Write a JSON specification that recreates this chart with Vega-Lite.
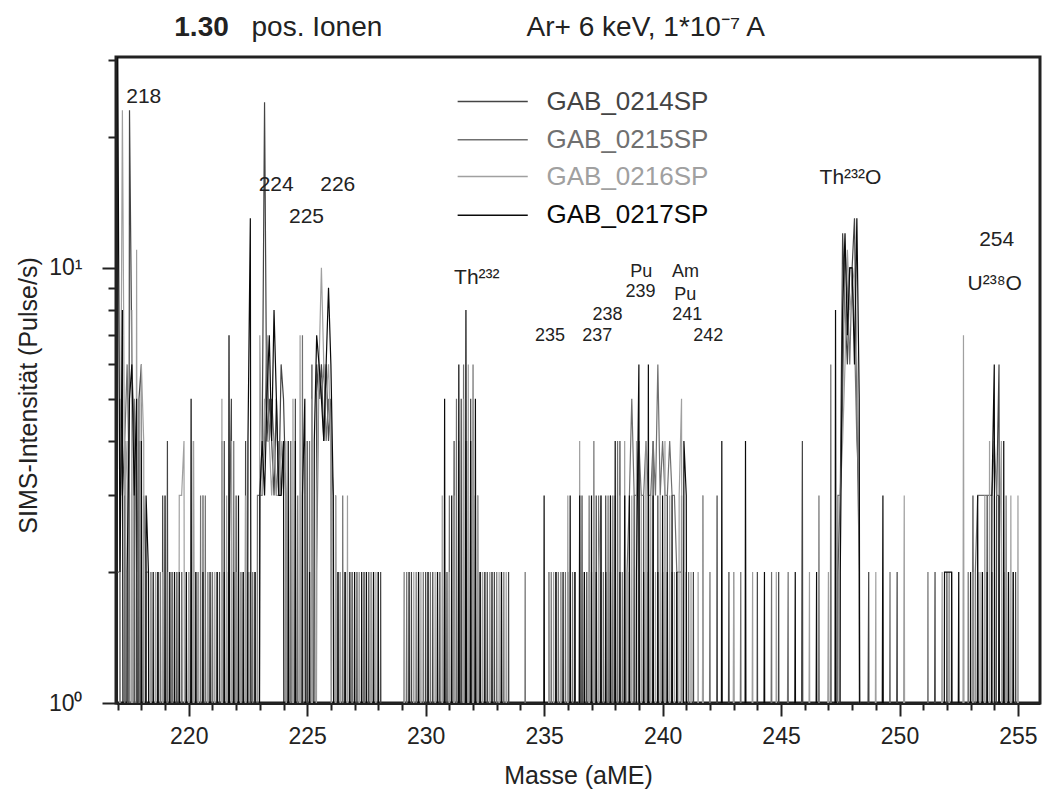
{
"$schema":"https://vega.github.io/schema/vega-lite/v6.json",
"width":924,"height":646,"autosize":{"type":"none"},
"padding":{"left":116,"top":57,"right":8,"bottom":91},
"background":"white",
"config":{"font":"Liberation Sans","view":{"stroke":"#222","strokeWidth":3},
 "axis":{"domainColor":"#222","domainWidth":3,"tickColor":"#222","tickWidth":2,"labelColor":"#222","titleColor":"#222","labelFont":"Liberation Sans","titleFont":"Liberation Sans","labelFontSize":23,"titleFontSize":25,"titleFontWeight":"normal","grid":false,"labelOverlap":false,"labelBound":false}},
"datasets":{
"spec":[
{"m":217.0,"a":0,"b":2,"c":0,"d":35},{"m":217.1,"a":5,"b":2,"c":2,"d":2},{"m":217.2,"a":3,"b":0,"c":23,"d":8},{"m":217.3,"a":4,"b":4,"c":3,"d":0},{"m":217.4,"a":0,"b":6,"c":4,"d":2},{"m":217.5,"a":23,"b":3,"c":0,"d":5},{"m":217.6,"a":6,"b":0,"c":8,"d":6},{"m":217.7,"a":4,"b":5,"c":0,"d":3},{"m":217.8,"a":0,"b":2,"c":11,"d":5},{"m":217.9,"a":5,"b":4,"c":0,"d":0},
{"m":218.0,"a":6,"b":0,"c":6,"d":4},{"m":218.1,"a":0,"b":3,"c":4,"d":0},{"m":218.2,"a":2,"b":2,"c":0,"d":3},{"m":218.3,"a":0,"b":2,"c":0,"d":2},{"m":218.4,"a":2,"b":0,"c":2,"d":0},{"m":218.5,"a":0,"b":0,"c":0,"d":2},{"m":218.6,"a":0,"b":2,"c":2,"d":0},{"m":218.7,"a":2,"b":0,"c":0,"d":2},{"m":218.8,"a":0,"b":2,"c":0,"d":0},{"m":218.9,"a":3,"b":0,"c":2,"d":0},
{"m":219.0,"a":0,"b":0,"c":0,"d":3},{"m":219.1,"a":4,"b":2,"c":0,"d":0},{"m":219.2,"a":0,"b":0,"c":2,"d":2},{"m":219.3,"a":2,"b":2,"c":0,"d":0},{"m":219.4,"a":0,"b":0,"c":2,"d":2},{"m":219.5,"a":2,"b":0,"c":0,"d":0},{"m":219.6,"a":0,"b":0,"c":3,"d":2},{"m":219.7,"a":2,"b":2,"c":3,"d":0},{"m":219.8,"a":0,"b":0,"c":4,"d":0},{"m":219.9,"a":2,"b":0,"c":0,"d":2},
{"m":220.0,"a":0,"b":2,"c":2,"d":0},{"m":220.1,"a":0,"b":0,"c":0,"d":5},{"m":220.2,"a":4,"b":0,"c":4,"d":0},{"m":220.3,"a":0,"b":2,"c":0,"d":2},{"m":220.4,"a":2,"b":0,"c":2,"d":0},{"m":220.5,"a":0,"b":3,"c":0,"d":0},{"m":220.6,"a":3,"b":0,"c":3,"d":2},{"m":220.7,"a":0,"b":3,"c":0,"d":0},{"m":220.8,"a":2,"b":0,"c":2,"d":0},{"m":220.9,"a":0,"b":0,"c":0,"d":2},
{"m":221.0,"a":2,"b":2,"c":0,"d":0},{"m":221.1,"a":0,"b":0,"c":2,"d":0},{"m":221.2,"a":0,"b":2,"c":0,"d":2},{"m":221.3,"a":2,"b":0,"c":0,"d":0},{"m":221.4,"a":0,"b":4,"c":5,"d":0},{"m":221.5,"a":4,"b":0,"c":0,"d":2},{"m":221.6,"a":0,"b":2,"c":3,"d":0},{"m":221.7,"a":2,"b":0,"c":0,"d":7},{"m":221.8,"a":5,"b":0,"c":4,"d":0},{"m":221.9,"a":0,"b":4,"c":0,"d":2},
{"m":222.0,"a":3,"b":0,"c":2,"d":0},{"m":222.1,"a":0,"b":2,"c":0,"d":3},{"m":222.2,"a":2,"b":0,"c":2,"d":0},{"m":222.3,"a":0,"b":2,"c":0,"d":2},{"m":222.4,"a":4,"b":0,"c":3,"d":0},{"m":222.5,"a":0,"b":2,"c":0,"d":4},{"m":222.6,"a":2,"b":0,"c":2,"d":13},{"m":222.7,"a":0,"b":2,"c":0,"d":0},{"m":222.8,"a":2,"b":0,"c":2,"d":2},{"m":222.9,"a":0,"b":3,"c":0,"d":0},
{"m":223.0,"a":3,"b":3,"c":7,"d":3},{"m":223.1,"a":4,"b":3,"c":3,"d":4},{"m":223.2,"a":24,"b":4,"c":5,"d":3},{"m":223.3,"a":4,"b":7,"c":4,"d":5},{"m":223.4,"a":5,"b":4,"c":4,"d":7},{"m":223.5,"a":4,"b":5,"c":3,"d":4},{"m":223.6,"a":3,"b":4,"c":4,"d":8},{"m":223.7,"a":5,"b":3,"c":3,"d":5},{"m":223.8,"a":3,"b":4,"c":3,"d":3},{"m":223.9,"a":6,"b":3,"c":4,"d":3},
{"m":224.0,"a":5,"b":4,"c":3,"d":4},{"m":224.1,"a":3,"b":3,"c":4,"d":0},{"m":224.2,"a":0,"b":0,"c":0,"d":4},{"m":224.3,"a":4,"b":4,"c":0,"d":0},{"m":224.4,"a":0,"b":0,"c":5,"d":0},{"m":224.5,"a":5,"b":0,"c":0,"d":4},{"m":224.6,"a":0,"b":3,"c":0,"d":0},{"m":224.7,"a":0,"b":0,"c":7,"d":0},{"m":224.8,"a":0,"b":7,"c":0,"d":3},{"m":224.9,"a":0,"b":0,"c":0,"d":5},
{"m":225.0,"a":4,"b":0,"c":0,"d":0},{"m":225.1,"a":0,"b":4,"c":0,"d":2},{"m":225.2,"a":6,"b":0,"c":5,"d":0},{"m":225.3,"a":0,"b":0,"c":0,"d":4},{"m":225.4,"a":6,"b":2,"c":3,"d":7},{"m":225.5,"a":5,"b":6,"c":6,"d":6},{"m":225.6,"a":6,"b":5,"c":10,"d":5},{"m":225.7,"a":4,"b":6,"c":6,"d":4},{"m":225.8,"a":6,"b":4,"c":5,"d":6},{"m":225.9,"a":4,"b":5,"c":6,"d":9},
{"m":226.0,"a":5,"b":4,"c":4,"d":6},{"m":226.1,"a":0,"b":3,"c":0,"d":3},{"m":226.2,"a":3,"b":0,"c":3,"d":0},{"m":226.3,"a":0,"b":2,"c":0,"d":2},{"m":226.4,"a":2,"b":0,"c":2,"d":0},{"m":226.5,"a":0,"b":3,"c":0,"d":0},{"m":226.6,"a":2,"b":0,"c":0,"d":2},{"m":226.7,"a":0,"b":2,"c":3,"d":0},{"m":226.8,"a":0,"b":0,"c":0,"d":2},{"m":226.9,"a":2,"b":2,"c":0,"d":0},
{"m":227.0,"a":0,"b":0,"c":2,"d":2},{"m":227.1,"a":2,"b":0,"c":0,"d":0},{"m":227.2,"a":0,"b":2,"c":2,"d":0},{"m":227.3,"a":0,"b":0,"c":0,"d":2},{"m":227.4,"a":2,"b":2,"c":0,"d":0},{"m":227.5,"a":0,"b":0,"c":2,"d":2},{"m":227.6,"a":2,"b":0,"c":0,"d":0},{"m":227.7,"a":0,"b":2,"c":2,"d":0},{"m":227.8,"a":2,"b":0,"c":0,"d":2},{"m":227.9,"a":0,"b":0,"c":2,"d":0},
{"m":228.0,"a":0,"b":2,"c":0,"d":2},{"m":228.1,"a":2,"b":0,"c":0,"d":0},{"m":228.2,"a":0,"b":0,"c":0,"d":0},
{"m":229.0,"a":0,"b":0,"c":0,"d":0},{"m":229.1,"a":2,"b":0,"c":2,"d":0},{"m":229.2,"a":0,"b":2,"c":0,"d":0},{"m":229.3,"a":0,"b":0,"c":0,"d":2},{"m":229.4,"a":2,"b":0,"c":0,"d":0},{"m":229.5,"a":0,"b":0,"c":2,"d":0},{"m":229.6,"a":0,"b":2,"c":0,"d":0},{"m":229.7,"a":2,"b":0,"c":0,"d":2},{"m":229.8,"a":0,"b":0,"c":2,"d":0},{"m":229.9,"a":0,"b":2,"c":0,"d":0},
{"m":230.0,"a":2,"b":0,"c":0,"d":0},{"m":230.1,"a":0,"b":0,"c":2,"d":2},{"m":230.2,"a":0,"b":2,"c":0,"d":0},{"m":230.3,"a":2,"b":0,"c":0,"d":0},{"m":230.4,"a":0,"b":0,"c":2,"d":0},{"m":230.5,"a":0,"b":2,"c":0,"d":2},{"m":230.6,"a":2,"b":0,"c":0,"d":0},{"m":230.7,"a":0,"b":0,"c":3,"d":0},{"m":230.8,"a":0,"b":2,"c":0,"d":5},{"m":230.9,"a":2,"b":0,"c":0,"d":0},
{"m":231.0,"a":0,"b":3,"c":2,"d":0},{"m":231.1,"a":0,"b":0,"c":0,"d":3},{"m":231.2,"a":4,"b":0,"c":3,"d":0},{"m":231.3,"a":0,"b":5,"c":0,"d":0},{"m":231.4,"a":0,"b":0,"c":4,"d":6},{"m":231.5,"a":5,"b":0,"c":0,"d":0},{"m":231.6,"a":0,"b":6,"c":5,"d":0},{"m":231.7,"a":4,"b":0,"c":0,"d":8},{"m":231.8,"a":0,"b":4,"c":6,"d":0},{"m":231.9,"a":5,"b":0,"c":0,"d":4},
{"m":232.0,"a":0,"b":6,"c":4,"d":0},{"m":232.1,"a":3,"b":0,"c":0,"d":5},{"m":232.2,"a":0,"b":3,"c":3,"d":0},{"m":232.3,"a":2,"b":0,"c":0,"d":2},{"m":232.4,"a":0,"b":2,"c":2,"d":0},{"m":232.5,"a":0,"b":0,"c":0,"d":2},{"m":232.6,"a":2,"b":0,"c":0,"d":0},{"m":232.7,"a":0,"b":2,"c":2,"d":0},{"m":232.8,"a":0,"b":0,"c":0,"d":2},{"m":232.9,"a":2,"b":0,"c":0,"d":0},
{"m":233.0,"a":0,"b":2,"c":0,"d":0},{"m":233.1,"a":0,"b":0,"c":2,"d":0},{"m":233.2,"a":2,"b":0,"c":0,"d":2},{"m":233.3,"a":0,"b":2,"c":0,"d":0},{"m":233.4,"a":0,"b":0,"c":2,"d":0},{"m":233.5,"a":2,"b":0,"c":0,"d":0},{"m":233.6,"a":0,"b":0,"c":0,"d":0},
{"m":234.1,"a":0,"b":0,"c":0,"d":0},{"m":234.2,"a":0,"b":2,"c":0,"d":0},{"m":234.3,"a":0,"b":0,"c":0,"d":0},
{"m":234.9,"a":0,"b":0,"c":0,"d":0},{"m":235.0,"a":0,"b":0,"c":0,"d":3},{"m":235.1,"a":0,"b":0,"c":0,"d":0},{"m":235.2,"a":2,"b":0,"c":2,"d":0},{"m":235.3,"a":0,"b":2,"c":0,"d":0},{"m":235.4,"a":0,"b":0,"c":2,"d":0},{"m":235.5,"a":2,"b":0,"c":0,"d":2},{"m":235.6,"a":0,"b":2,"c":0,"d":0},{"m":235.7,"a":2,"b":0,"c":2,"d":0},{"m":235.8,"a":0,"b":0,"c":0,"d":2},{"m":235.9,"a":0,"b":2,"c":0,"d":0},
{"m":236.0,"a":2,"b":0,"c":3,"d":0},{"m":236.1,"a":0,"b":0,"c":0,"d":3},{"m":236.2,"a":0,"b":2,"c":0,"d":0},{"m":236.3,"a":2,"b":0,"c":2,"d":2},{"m":236.4,"a":0,"b":0,"c":0,"d":0},{"m":236.5,"a":0,"b":3,"c":4,"d":3},{"m":236.6,"a":3,"b":0,"c":0,"d":0},{"m":236.7,"a":0,"b":2,"c":2,"d":2},{"m":236.8,"a":2,"b":0,"c":0,"d":0},{"m":236.9,"a":0,"b":3,"c":2,"d":0},
{"m":237.0,"a":2,"b":0,"c":0,"d":3},{"m":237.1,"a":0,"b":4,"c":3,"d":0},{"m":237.2,"a":3,"b":0,"c":0,"d":2},{"m":237.3,"a":0,"b":3,"c":2,"d":0},{"m":237.4,"a":2,"b":0,"c":3,"d":3},{"m":237.5,"a":0,"b":2,"c":0,"d":0},{"m":237.6,"a":3,"b":0,"c":2,"d":2},{"m":237.7,"a":0,"b":3,"c":0,"d":0},{"m":237.8,"a":2,"b":0,"c":3,"d":3},{"m":237.9,"a":0,"b":3,"c":0,"d":0},
{"m":238.0,"a":3,"b":0,"c":2,"d":4},{"m":238.1,"a":0,"b":4,"c":0,"d":0},{"m":238.2,"a":4,"b":0,"c":3,"d":2},{"m":238.3,"a":0,"b":2,"c":0,"d":0},{"m":238.4,"a":3,"b":0,"c":4,"d":3},{"m":238.5,"a":0,"b":2,"c":0,"d":0},{"m":238.6,"a":2,"b":3,"c":0,"d":3},{"m":238.7,"a":0,"b":5,"c":3,"d":0},{"m":238.8,"a":3,"b":3,"c":0,"d":0},{"m":238.9,"a":0,"b":3,"c":4,"d":2},
{"m":239.0,"a":4,"b":4,"c":0,"d":6},{"m":239.1,"a":0,"b":3,"c":3,"d":0},{"m":239.2,"a":3,"b":3,"c":0,"d":2},{"m":239.3,"a":0,"b":4,"c":4,"d":0},{"m":239.4,"a":2,"b":3,"c":0,"d":6},{"m":239.5,"a":0,"b":3,"c":3,"d":0},{"m":239.6,"a":4,"b":4,"c":0,"d":3},{"m":239.7,"a":0,"b":3,"c":2,"d":0},{"m":239.8,"a":3,"b":6,"c":0,"d":2},{"m":239.9,"a":0,"b":3,"c":3,"d":0},
{"m":240.0,"a":2,"b":4,"c":0,"d":3},{"m":240.1,"a":0,"b":3,"c":4,"d":0},{"m":240.2,"a":3,"b":3,"c":0,"d":2},{"m":240.3,"a":0,"b":4,"c":3,"d":0},{"m":240.4,"a":2,"b":3,"c":0,"d":3},{"m":240.5,"a":0,"b":3,"c":2,"d":0},{"m":240.6,"a":2,"b":2,"c":0,"d":2},{"m":240.7,"a":0,"b":2,"c":3,"d":0},{"m":240.8,"a":3,"b":2,"c":5,"d":0},{"m":240.9,"a":0,"b":0,"c":0,"d":4},
{"m":241.0,"a":2,"b":0,"c":0,"d":3},{"m":241.1,"a":0,"b":2,"c":0,"d":0},{"m":241.2,"a":0,"b":0,"c":2,"d":0},{"m":241.3,"a":2,"b":0,"c":0,"d":0},{"m":241.4,"a":0,"b":0,"c":0,"d":0},{"m":241.5,"a":0,"b":0,"c":2,"d":0},{"m":241.6,"a":0,"b":0,"c":0,"d":0},{"m":241.7,"a":0,"b":3,"c":3,"d":0},{"m":241.8,"a":0,"b":0,"c":0,"d":0},{"m":242.0,"a":0,"b":2,"c":0,"d":0},{"m":242.1,"a":0,"b":0,"c":0,"d":0},
{"m":242.2,"a":0,"b":0,"c":0,"d":0},{"m":242.3,"a":3,"b":0,"c":0,"d":0},{"m":242.4,"a":0,"b":0,"c":0,"d":0},{"m":242.5,"a":0,"b":0,"c":0,"d":4},{"m":242.6,"a":0,"b":0,"c":0,"d":0},{"m":242.8,"a":2,"b":0,"c":0,"d":0},{"m":242.9,"a":0,"b":0,"c":0,"d":0},{"m":243.0,"a":0,"b":2,"c":2,"d":0},{"m":243.1,"a":0,"b":0,"c":0,"d":0},{"m":243.3,"a":0,"b":2,"c":0,"d":0},{"m":243.4,"a":0,"b":0,"c":0,"d":0},
{"m":243.5,"a":0,"b":0,"c":0,"d":4},{"m":243.6,"a":0,"b":0,"c":0,"d":0},{"m":243.8,"a":0,"b":0,"c":2,"d":0},{"m":243.9,"a":0,"b":0,"c":0,"d":0},{"m":244.0,"a":2,"b":0,"c":0,"d":0},{"m":244.1,"a":0,"b":0,"c":0,"d":0},{"m":244.3,"a":0,"b":0,"c":0,"d":2},{"m":244.4,"a":0,"b":0,"c":0,"d":0},{"m":244.6,"a":0,"b":2,"c":0,"d":0},{"m":244.7,"a":0,"b":0,"c":0,"d":0},
{"m":244.8,"a":0,"b":0,"c":2,"d":0},{"m":244.9,"a":2,"b":0,"c":0,"d":0},{"m":245.0,"a":0,"b":0,"c":0,"d":0},{"m":245.3,"a":0,"b":2,"c":0,"d":0},{"m":245.4,"a":0,"b":0,"c":0,"d":0},{"m":245.6,"a":0,"b":0,"c":0,"d":2},{"m":245.7,"a":0,"b":0,"c":0,"d":0},{"m":245.9,"a":4,"b":0,"c":0,"d":0},{"m":246.0,"a":0,"b":0,"c":0,"d":0},
{"m":246.2,"a":0,"b":0,"c":2,"d":0},{"m":246.3,"a":0,"b":0,"c":0,"d":0},{"m":246.5,"a":0,"b":0,"c":0,"d":2},{"m":246.6,"a":0,"b":3,"c":0,"d":0},{"m":246.7,"a":0,"b":0,"c":0,"d":0},{"m":247.0,"a":0,"b":0,"c":2,"d":0},{"m":247.1,"a":0,"b":6,"c":0,"d":0},{"m":247.2,"a":0,"b":0,"c":0,"d":0},{"m":247.3,"a":0,"b":0,"c":0,"d":8},
{"m":247.4,"a":2,"b":3,"c":0,"d":0},{"m":247.5,"a":3,"b":3,"c":3,"d":2},{"m":247.6,"a":12,"b":5,"c":4,"d":8},{"m":247.7,"a":8,"b":11,"c":6,"d":12},{"m":247.8,"a":6,"b":9,"c":11,"d":7},{"m":247.9,"a":10,"b":6,"c":8,"d":10},{"m":248.0,"a":10,"b":10,"c":9,"d":10},{"m":248.1,"a":13,"b":7,"c":10,"d":6},{"m":248.2,"a":5,"b":4,"c":6,"d":13},{"m":248.3,"a":2,"b":3,"c":3,"d":5},{"m":248.4,"a":0,"b":0,"c":0,"d":0},
{"m":248.7,"a":2,"b":0,"c":0,"d":0},{"m":248.8,"a":0,"b":0,"c":0,"d":0},{"m":249.0,"a":0,"b":0,"c":2,"d":0},{"m":249.1,"a":0,"b":0,"c":0,"d":0},{"m":249.3,"a":0,"b":0,"c":0,"d":3},{"m":249.4,"a":0,"b":0,"c":0,"d":0},{"m":249.6,"a":0,"b":2,"c":0,"d":0},{"m":249.7,"a":0,"b":0,"c":0,"d":0},{"m":249.9,"a":2,"b":0,"c":0,"d":0},{"m":250.0,"a":0,"b":0,"c":0,"d":0},{"m":250.2,"a":0,"b":0,"c":3,"d":0},{"m":250.3,"a":0,"b":0,"c":0,"d":0},
{"m":251.1,"a":0,"b":0,"c":0,"d":0},{"m":251.2,"a":0,"b":2,"c":0,"d":0},{"m":251.3,"a":0,"b":0,"c":0,"d":0},{"m":251.5,"a":2,"b":0,"c":0,"d":0},{"m":251.6,"a":0,"b":0,"c":0,"d":0},{"m":251.8,"a":0,"b":0,"c":2,"d":0},{"m":251.9,"a":0,"b":0,"c":0,"d":2},{"m":252.0,"a":2,"b":0,"c":0,"d":2},{"m":252.1,"a":0,"b":2,"c":2,"d":2},{"m":252.2,"a":2,"b":0,"c":0,"d":2},{"m":252.3,"a":0,"b":0,"c":0,"d":0},
{"m":252.5,"a":0,"b":0,"c":0,"d":2},{"m":252.6,"a":0,"b":0,"c":0,"d":0},{"m":252.7,"a":0,"b":0,"c":7,"d":0},{"m":252.8,"a":0,"b":0,"c":0,"d":0},{"m":252.9,"a":0,"b":2,"c":0,"d":0},{"m":253.0,"a":0,"b":0,"c":0,"d":2},{"m":253.1,"a":3,"b":0,"c":2,"d":0},{"m":253.2,"a":0,"b":2,"c":0,"d":0},{"m":253.3,"a":2,"b":3,"c":0,"d":3},{"m":253.4,"a":0,"b":3,"c":2,"d":0},
{"m":253.5,"a":2,"b":3,"c":0,"d":2},{"m":253.6,"a":0,"b":3,"c":3,"d":0},{"m":253.7,"a":3,"b":3,"c":0,"d":2},{"m":253.8,"a":0,"b":3,"c":4,"d":0},{"m":253.9,"a":2,"b":3,"c":0,"d":3},{"m":254.0,"a":0,"b":4,"c":3,"d":6},{"m":254.1,"a":3,"b":3,"c":0,"d":0},{"m":254.2,"a":6,"b":3,"c":2,"d":3},{"m":254.3,"a":0,"b":3,"c":4,"d":0},{"m":254.4,"a":2,"b":0,"c":0,"d":4},
{"m":254.5,"a":0,"b":3,"c":2,"d":0},{"m":254.6,"a":2,"b":0,"c":0,"d":2},{"m":254.7,"a":0,"b":0,"c":3,"d":0},{"m":254.8,"a":0,"b":2,"c":0,"d":2},{"m":254.9,"a":2,"b":0,"c":0,"d":0},{"m":255.0,"a":0,"b":0,"c":3,"d":0},{"m":255.1,"a":0,"b":0,"c":0,"d":0}
],
"leg":[
{"s":"a","t":"GAB_0214SP","r1":231.35,"r2":234.31,"m":235.1,"v":24.1},
{"s":"b","t":"GAB_0215SP","r1":231.35,"r2":234.31,"m":235.1,"v":19.7},
{"s":"c","t":"GAB_0216SP","r1":231.35,"r2":234.31,"m":235.1,"v":16.2},
{"s":"d","t":"GAB_0217SP","r1":231.35,"r2":234.31,"m":235.1,"v":13.2}
],
"lab":[
{"g":"big","t":"218","m":218.1,"v":24.7},
{"g":"big","t":"224","m":223.69,"v":15.5},
{"g":"big","t":"226","m":226.29,"v":15.5},
{"g":"big","t":"225","m":224.97,"v":13.1},
{"g":"big","t":"Th²³²","m":232.16,"v":9.5},
{"g":"big","t":"Th²³²O","m":247.93,"v":16.1},
{"g":"big","t":"254","m":254.1,"v":11.6},
{"g":"big","t":"U²³⁸O","m":254.02,"v":9.2},
{"g":"small","t":"Pu","m":239.1,"v":9.8},
{"g":"small","t":"Am","m":240.97,"v":9.8},
{"g":"small","t":"239","m":239.07,"v":8.8},
{"g":"small","t":"Pu","m":240.96,"v":8.66},
{"g":"small","t":"238","m":237.68,"v":7.8},
{"g":"small","t":"241","m":241.04,"v":7.8},
{"g":"small","t":"235","m":235.25,"v":6.97},
{"g":"small","t":"237","m":237.24,"v":6.97},
{"g":"small","t":"242","m":241.93,"v":6.97},
{"g":"bold","t":"1.30","m":219.39,"v":35.6},
{"g":"head","t":"pos. Ionen","m":222.65,"v":35.6},
{"g":"head","t":"Ar+ 6 keV, 1*10⁻⁷ A","m":234.26,"v":35.6}
]},
"encoding":{
 "x":{"field":"m","type":"quantitative","scale":{"domain":[216.93,255.93],"nice":false,"zero":false},
  "axis":{"title":"Masse (aME)","values":[217,218,219,220,221,222,223,224,225,226,227,228,229,230,231,232,233,234,235,236,237,238,239,240,241,242,243,244,245,246,247,248,249,250,251,252,253,254,255],
   "labelExpr":"datum.value % 5 === 0 ? datum.label : ''","tickSize":{"condition":{"test":"datum.value % 5 === 0","value":13},"value":7},"labelPadding":9,"titleY":72,"titleBaseline":"middle"}},
 "y":{"field":"v","type":"quantitative","scale":{"type":"symlog","constant":0.001,"domain":[1,30.5],"nice":false,"zero":false},
  "axis":{"title":"SIMS-Intensität (Pulse/s)","values":[1,2,3,4,5,6,7,8,9,10,20,30],
   "labelExpr":"datum.value === 1 ? '10⁰' : datum.value === 10 ? '10¹' : ''","tickSize":{"condition":{"test":"datum.value === 1 || datum.value === 10","value":14},"value":8},"labelPadding":20,"titleX":-88,"titleY":338,"titleAlign":"center","titleBaseline":"middle"}}
},
"layer":[
 {"data":{"name":"spec"},"transform":[{"fold":["a","b","c","d"],"as":["s","v"]}],
  "mark":{"type":"line","clip":true,"strokeWidth":1.2},
  "encoding":{"color":{"field":"s","type":"nominal","scale":{"domain":["a","b","c","d"],"range":["#444444","#707070","#a0a0a0","#0a0a0a"]},"legend":null}}},
 {"data":{"name":"leg"},"mark":{"type":"rule","strokeWidth":1.5},
  "encoding":{"x":{"field":"r1","type":"quantitative","scale":{"domain":[216.93,255.93],"nice":false,"zero":false},"title":"Masse (aME)"},"x2":{"field":"r2"},
   "color":{"field":"s","type":"nominal","scale":{"domain":["a","b","c","d"],"range":["#444444","#707070","#a0a0a0","#0a0a0a"]},"legend":null}}},
 {"data":{"name":"leg"},"mark":{"type":"text","fontSize":26,"font":"Liberation Sans","align":"left","baseline":"middle"},
  "encoding":{"text":{"field":"t"},"color":{"field":"s","type":"nominal","scale":{"domain":["a","b","c","d"],"range":["#444444","#707070","#a0a0a0","#0a0a0a"]},"legend":null}}},
 {"data":{"name":"lab"},"transform":[{"filter":"datum.g === 'big'"}],"mark":{"type":"text","fontSize":21,"font":"Liberation Sans","color":"#222","align":"center","baseline":"middle"},"encoding":{"text":{"field":"t"}}},
 {"data":{"name":"lab"},"transform":[{"filter":"datum.g === 'small'"}],"mark":{"type":"text","fontSize":18,"font":"Liberation Sans","color":"#222","align":"center","baseline":"middle"},"encoding":{"text":{"field":"t"}}},
 {"data":{"name":"lab"},"transform":[{"filter":"datum.g === 'bold'"}],"mark":{"type":"text","fontSize":28,"fontWeight":"bold","font":"Liberation Sans","color":"#222","align":"left","baseline":"middle"},"encoding":{"text":{"field":"t"}}},
 {"data":{"name":"lab"},"transform":[{"filter":"datum.g === 'head'"}],"mark":{"type":"text","fontSize":28,"font":"Liberation Sans","color":"#222","align":"left","baseline":"middle"},"encoding":{"text":{"field":"t"}}}
]
}
